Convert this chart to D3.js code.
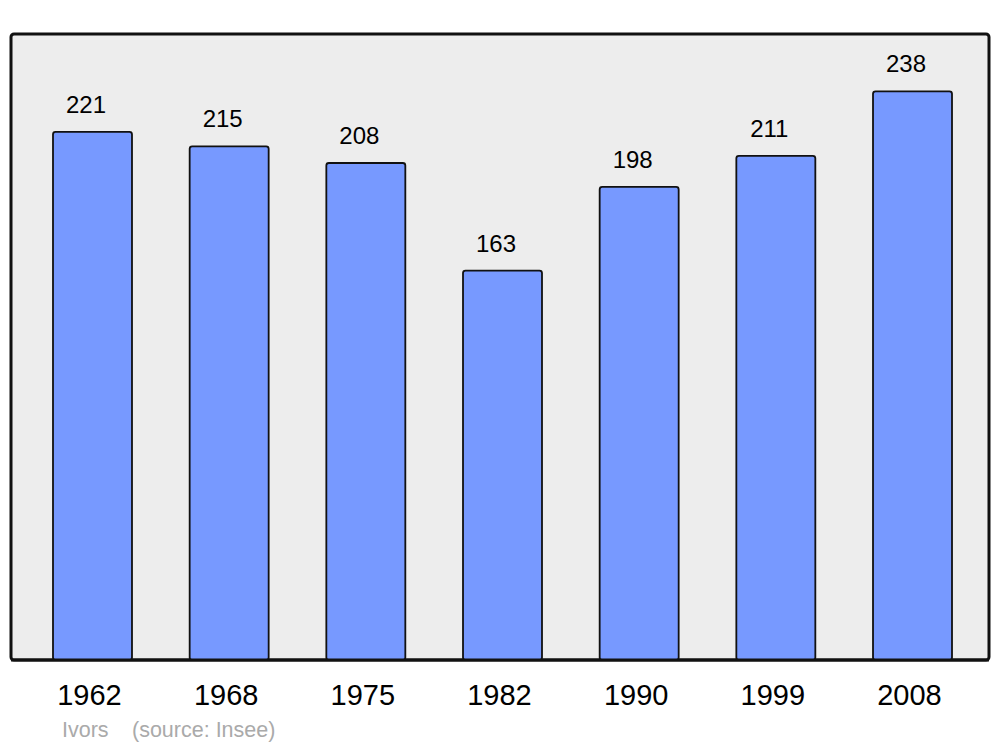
<!DOCTYPE html>
<html><head><meta charset="utf-8">
<script src="https://cdn.jsdelivr.net/npm/d3@7"></script>
<style>body{margin:0;background:#fff}svg{display:block}text{font-family:"Liberation Sans",Arial,sans-serif}</style>
</head><body>
<svg id="c" width="1000" height="747"></svg>
<script>
const years = ["1962","1968","1975","1982","1990","1999","2008"];
const population = [221,215,208,163,198,211,238];
const commune = "Ivors";
const source = "(source: Insee)";

const svg = d3.select("#c");
const frame = {x0: 11, x1: 989, y0: 34, y1: 660};

svg.append("rect").attr("x", frame.x0).attr("y", frame.y0)
  .attr("width", frame.x1 - frame.x0).attr("height", frame.y1 - frame.y0)
  .attr("rx", 3).attr("fill", "#ededed").attr("stroke", "#111").attr("stroke-width", 3);

const x = d3.scaleBand().domain(years).range([13.5, 991.5]).paddingInner(0.422).paddingOuter(0.289);
const y = d3.scaleLinear().domain([0, 262]).range([frame.y1, frame.y0]);

const data = years.map((yr, i) => ({yr, v: population[i]}));

svg.append("g").selectAll("rect").data(data).join("rect")
  .attr("x", d => x(d.yr)).attr("y", d => y(d.v))
  .attr("width", x.bandwidth()).attr("height", d => y(0) - y(d.v))
  .attr("rx", 2.5).attr("fill", "#7799ff").attr("stroke", "#111").attr("stroke-width", 1.8);

svg.append("line").attr("x1", frame.x0).attr("x2", frame.x1).attr("y1", frame.y1).attr("y2", frame.y1)
  .attr("stroke", "#111").attr("stroke-width", 3);

svg.append("g").selectAll("text").data(data).join("text")
  .attr("x", d => x(d.yr) + x.bandwidth()/2 - 6.5).attr("y", d => y(d.v) - 19)
  .attr("text-anchor", "middle").attr("font-size", 24).attr("fill", "#000").text(d => d.v);

svg.append("g").selectAll("text").data(data).join("text")
  .attr("x", d => x(d.yr) + x.bandwidth()/2 - 3).attr("y", 705)
  .attr("text-anchor", "middle").attr("font-size", 29).attr("fill", "#000").text(d => d.yr);

svg.append("text").attr("x", 62).attr("y", 737).attr("font-size", 21.5).attr("fill", "#aaa").text(commune);
svg.append("text").attr("x", 132).attr("y", 737).attr("font-size", 21.5).attr("fill", "#aaa").text(source);
</script>
</body></html>
